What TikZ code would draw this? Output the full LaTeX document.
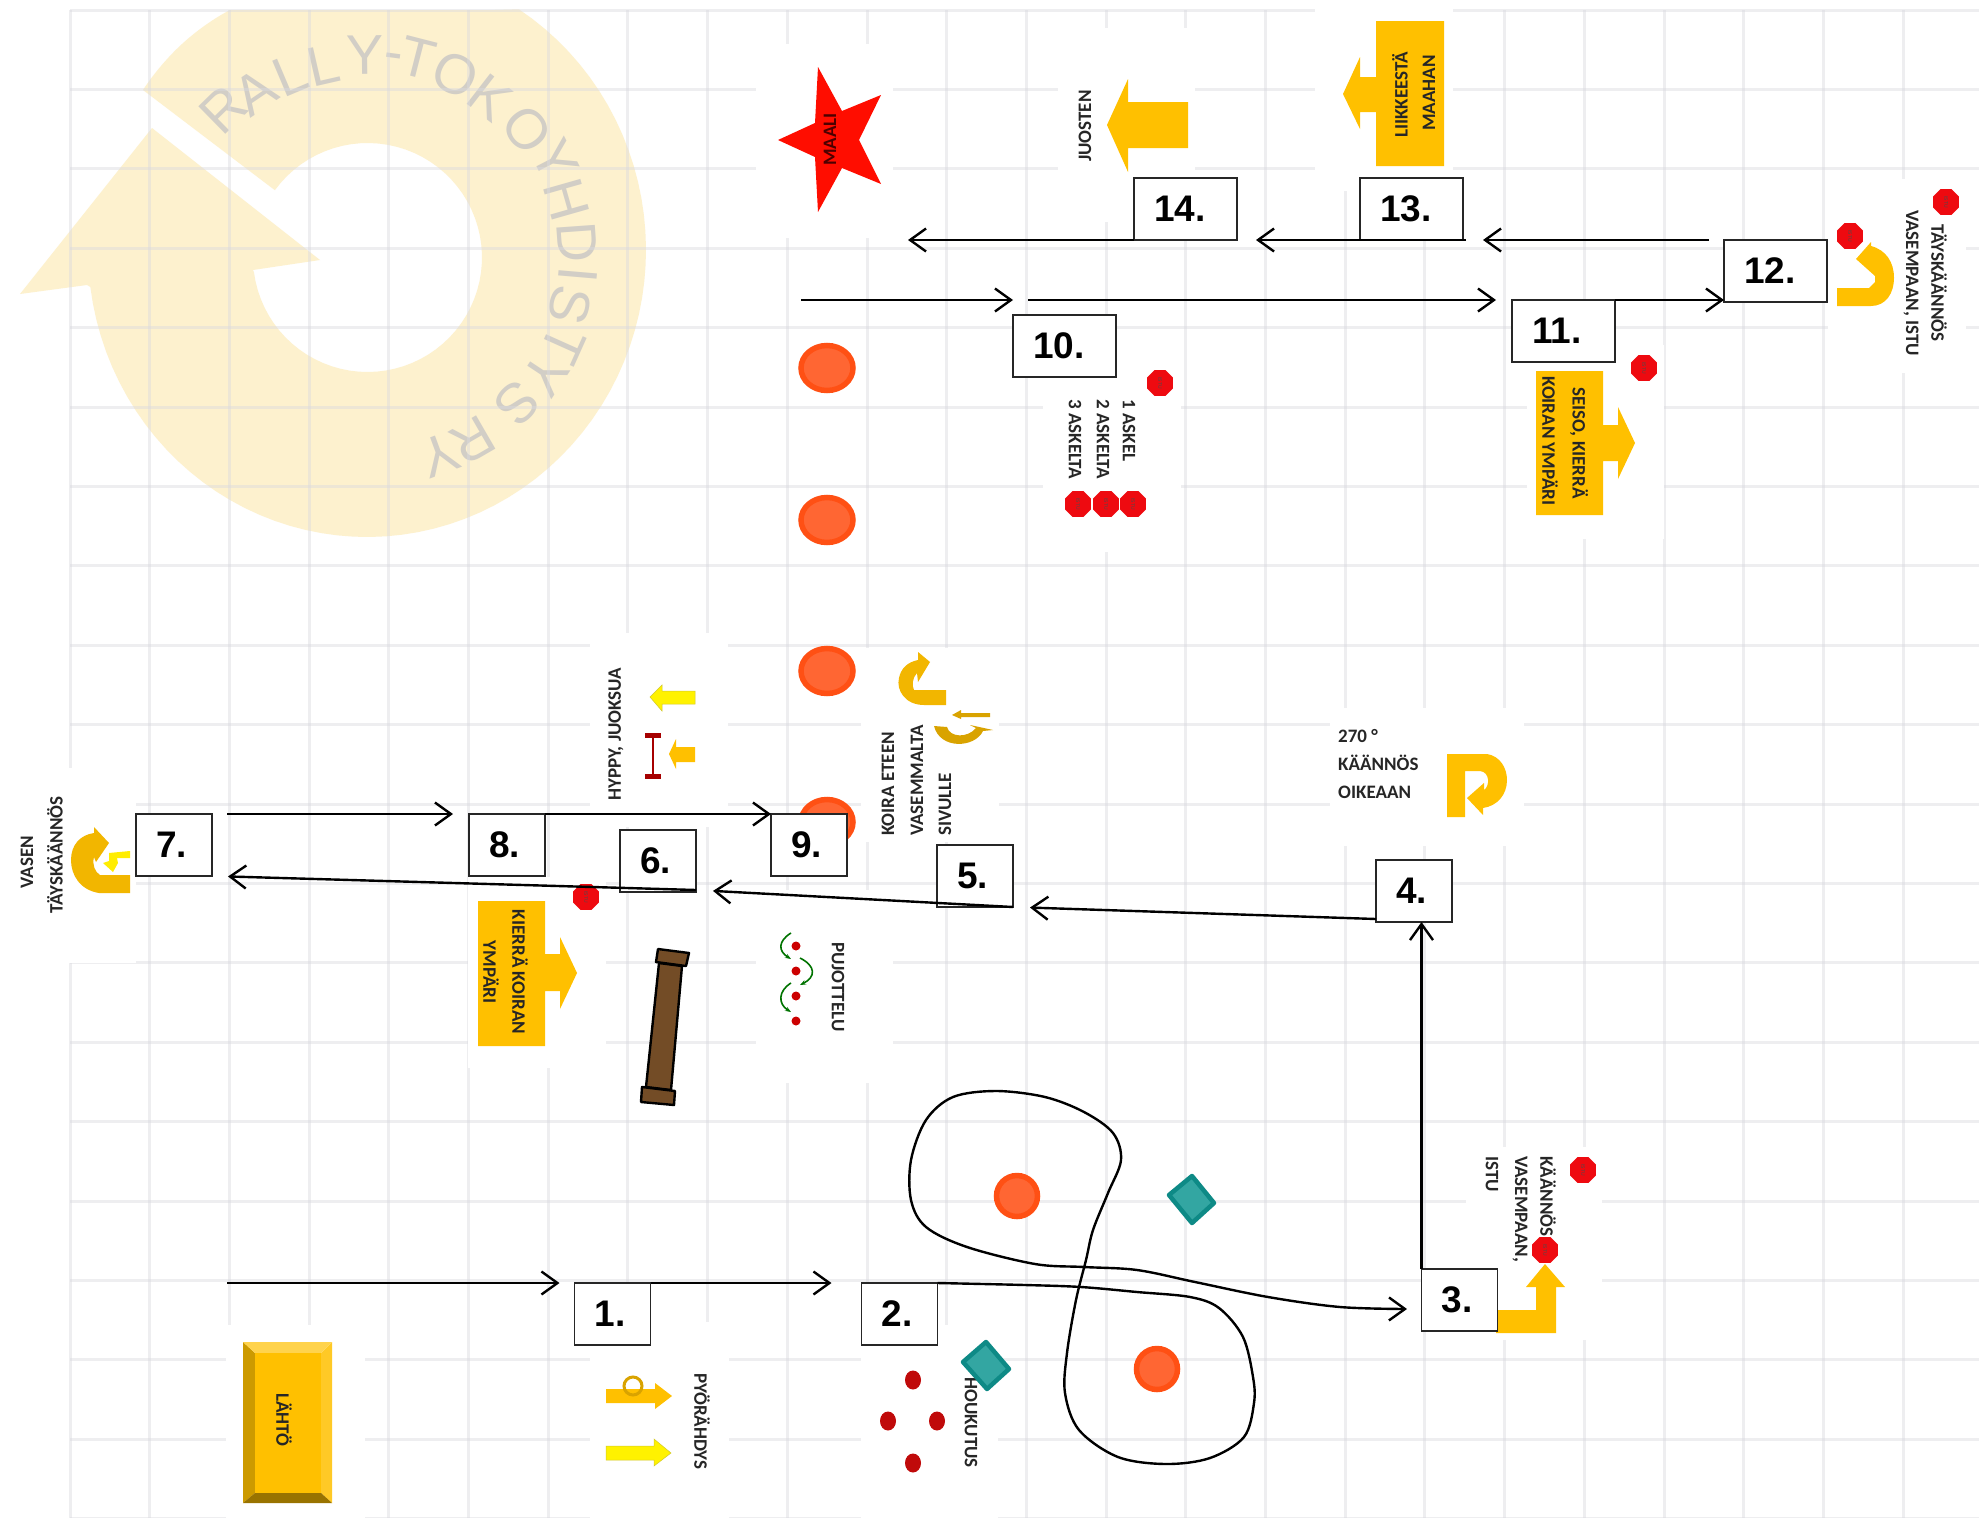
\documentclass[tikz,border=0pt]{standalone}
\usepackage{fontspec}
\setmainfont{Liberation Sans}
\newfontfamily\signfont{Carlito}
\usetikzlibrary{arrows.meta,shapes.geometric}

\definecolor{gold}{HTML}{FFC000}
\definecolor{logotint}{HTML}{FDF1CE}
\definecolor{logotext}{HTML}{D2CEC6}
\definecolor{gridgray}{HTML}{DADADF}
\definecolor{conefill}{HTML}{FF6633}
\definecolor{coneline}{HTML}{FF5014}
\definecolor{tealfill}{HTML}{33A6A2}
\definecolor{tealline}{HTML}{0E8A86}
\definecolor{stopred}{HTML}{EE0A10}
\definecolor{lurered}{HTML}{C00A0A}

\newcommand\numfont{\bfseries\fontsize{37}{37}\selectfont}
\newcommand\labelfont{\signfont\bfseries\fontsize{19}{19}\selectfont}

\tikzset{
  gridline/.style={draw=gridgray,line width=3pt,opacity=.45},
  patch/.style={fill=white},
  stepnum/.style={anchor=north west,draw=black!85,fill=white,line width=1.8pt,
    minimum height=62,text width=36,inner xsep=20,inner ysep=0,outer sep=0,
    align=left,font=\numfont},
  stepwide/.style={stepnum,text width=63},
  route/.style={->,>={Straight Barb[length=16pt,width=23pt]},line width=2.4pt},
  signdown/.style={rotate=-90,anchor=west,inner sep=0,text=black!85,font=\labelfont},
  signup/.style={rotate=90,anchor=west,inner sep=0,text=black!85,font=\labelfont},
  signmid/.style={rotate=-90,inner sep=0,text=black!85,font=\labelfont},
  signflat/.style={anchor=west,inner sep=0,text=black!85,font=\labelfont},
  stopsign/.style={shape=regular polygon,regular polygon sides=8,fill=stopred,
    minimum size=28,inner sep=0,rotate=-90,text=black!70,
    font=\fontsize{5}{5}\selectfont},
  cone/.style={shape=ellipse,draw=coneline,fill=conefill,line width=5.5pt,inner sep=0},
  cone big/.style={cone,minimum width=52,minimum height=45},
  cone low/.style={cone,minimum width=41,minimum height=41},
  lure/.style={shape=ellipse,fill=lurered,inner sep=0,minimum width=16,minimum height=19},
  teal/.style={fill=tealfill,draw=tealline,line width=4.5pt,line join=round},
  goldshape/.style={fill=gold},
  logoletter/.style={inner sep=0,text=logotext,font=\fontsize{56}{56}\selectfont}
}

\begin{document}
\begin{tikzpicture}[x=1pt,y=-1pt]
  \useasboundingbox (0,0) rectangle (1979,1518);
  \fill[white] (0,0) rectangle (1979,1518);

  % logo
  \fill[logotint] (143,90) -- plot[smooth,tension=1] coordinates {(143,90) (182,44) (230,10)}
    -- (495,10) -- plot[domain=57:-172.6,samples=70] ({367+279*cos(\x)},{250-287*sin(\x)})
    -- (87,285) -- (20,294) -- (152,128) -- (320,260) -- (253,270)
    -- plot[domain=187.5:504,samples=70] ({367.5+114.5*cos(\x)},{257.5-114.5*sin(\x)})
    -- cycle;
  \foreach \ch/\x/\y [count=\i] in {R/223/110,A/255/92,L/290/75,L/323/65,Y/365/55,-/393/62,
      T/418/58,O/455/75,K/490/98,O/527/130,Y/555/160,H/567/200,D/577/242,I/578/275,
      S/570/305,T/563/345,Y/545/375,S/517/403,R/473/440,Y/440/455} {
    \pgfmathsetmacro\ang{atan2(257-\y,\x-367)-90}
    \node[logoletter,rotate=\ang] (logo\i) at (\x,\y) {\ch};
  }

  % grid
  \foreach \k in {0,...,24}
    \draw[gridline] ({70+79.7*\k},10) -- ({70+79.7*\k},1518);
  \foreach \k in {0,...,19}
    \draw[gridline] (70,{10+79.4*\k}) -- (1979,{10+79.4*\k});

  % white backs of the signs
  \foreach \xa/\ya/\xb/\yb in {756/44/893/238,1058/28/1195/222,1315/4/1453/191,
      1828/179/1966/373,1527/345/1664/539,1043/358/1181/552,226/1325/365/1518,
      590/1322/729/1518,861/1325/998/1518,1466/1147/1602/1340,1330/708/1524/846,
      861/648/999/842,590/633/728/827,468/877/606/1068,756/890/893/1083,5/768/136/963}
    \fill[patch] (\xa,\ya) rectangle (\xb,\yb);

  % cones and pylons
  \node[cone big] (c1) at (827,368) {};
  \node[cone big] (c2) at (827,520) {};
  \node[cone big] (c3) at (827,671) {};
  \node[cone big] (c4) at (827,822) {};
  \node[cone low] (c5) at (1017,1196) {};
  \node[cone low] (c6) at (1157,1369) {};
  \draw[teal] (1192,1176) -- (1214,1203) -- (1192,1223) -- (1169,1195) -- cycle;

  % start
  \fill[gold!80!black] (243,1342) -- (255,1353) -- (255,1493) -- (243,1503) -- cycle;
  \fill[gold!85!white] (332,1342) -- (321,1353) -- (321,1493) -- (332,1503) -- cycle;
  \fill[gold!70!white] (243,1342) -- (332,1342) -- (321,1353) -- (255,1353) -- cycle;
  \fill[gold!60!black] (243,1503) -- (332,1503) -- (321,1493) -- (255,1493) -- cycle;
  \fill[gold] (255,1353) rectangle (321,1493);
  \node[signdown] (lahto) at (284,1393) {LÄHTÖ};

  % 1
  \fill[goldshape] (606,1389) -- (655,1389) -- (655,1383) -- (672,1396) -- (655,1409)
    -- (655,1403) -- (606,1403) -- cycle;
  \draw[gold!85!black,line width=3pt] (633,1386) circle (9);
  \fill[yellow,draw=yellow!80!black,line width=.5pt] (606,1446) -- (654,1446) -- (654,1439)
    -- (671,1453) -- (654,1466) -- (654,1460) -- (606,1460) -- cycle;
  \node[signdown] (pyora) at (702,1373) {PYÖRÄHDYS};

  % 2
  \node[lure] (lure1) at (913,1380) {};
  \node[lure] (lure2) at (888,1421) {};
  \node[lure] (lure3) at (937,1421) {};
  \node[lure] (lure4) at (913,1463) {};
  \node[signdown] (houkutus) at (971,1377) {HOUKUTUS};
  \draw[teal] (986,1342) -- (1009,1369) -- (987,1389) -- (963,1362) -- cycle;

  % 3
  \fill[goldshape] (1496,1310) -- (1536,1310) -- (1536,1287) -- (1526,1287) -- (1545,1264)
    -- (1565,1287) -- (1556,1287) -- (1556,1333) -- (1496,1333) -- cycle;
  \node[signdown] (kaan1) at (1548,1156) {KÄÄNNÖS};
  \node[signdown] (kaan2) at (1520,1156) {VASEMPAAN,};
  \node[signdown] (kaan3) at (1492,1156) {ISTU};
  \node[stopsign] (stop1) at (1583,1170) {ISTU};
  \node[stopsign] (stop2) at (1545,1250) {ISTU};

  % 4
  \fill[goldshape] (1447,754) -- (1487,754) .. controls (1500,756) and (1507,768) .. (1507,780)
    .. controls (1507,795) and (1497,806) .. (1483,808) -- (1483,815) -- (1467,798) -- (1484,783)
    -- (1484,790) .. controls (1490,786) and (1490,772) .. (1480,771)
    -- (1465,771) -- (1465,817) -- (1447,817) -- cycle;
  \node[signflat] (deg1) at (1338,736) {270 °};
  \node[signflat] (deg2) at (1338,763) {KÄÄNNÖS};
  \node[signflat] (deg3) at (1338,792) {OIKEAAN};

  % 5
  \fill[gold!95!black] (946,690) -- (946,705) -- (924,705)
    .. controls (905,705) and (896,690) .. (899,678) .. controls (901,668) and (908,662) .. (918,660)
    -- (918,652) -- (930,662) -- (918,682) -- (917,673)
    .. controls (912,678) and (912,686) .. (914,690) -- cycle;
  \fill[gold!85!black] (990,713) -- (961,713) -- (961,710) -- (952,715) -- (961,719)
    -- (961,717) -- (990,717) -- cycle;
  \fill[gold!85!black] (934,726) -- (947,727) .. controls (950,738) and (968,738) .. (976,728)
    -- (970,725) -- (993,730) -- (983,731) .. controls (975,748) and (940,750) .. (934,726) -- cycle;
  \node[signup] (eteen1) at (888,836) {KOIRA ETEEN};
  \node[signup] (eteen2) at (917,836) {VASEMMALTA};
  \node[signup] (eteen3) at (945,836) {SIVULLE};

  % 6
  \fill[goldshape] (478,901) -- (545,901) -- (545,954) -- (560,954) -- (560,937) -- (577,973)
    -- (560,1009) -- (560,991) -- (545,991) -- (545,1046) -- (478,1046) -- cycle;
  \node[signmid] (kierra1) at (520,972) {KIERRÄ KOIRAN};
  \node[signmid] (kierra2) at (491,972) {YMPÄRI};
  \node[stopsign] (stop3) at (586,897) {ISTU};
  \filldraw[fill=brown!60!black,draw=black,line width=2.4pt,line join=round]
    (659,963) -- (682,966) -- (671,1090) -- (646,1087) -- cycle;
  \filldraw[fill=brown!60!black,draw=black,line width=2.4pt,line join=round]
    (658,949) -- (689,953) -- (686,966) -- (656,962) -- cycle;
  \filldraw[fill=brown!60!black,draw=black,line width=2.4pt,line join=round]
    (642,1087) -- (675,1091) -- (674,1105) -- (641,1102) -- cycle;

  % slalom
  \foreach \y in {946,971,996,1021}
    \fill[red!80!black] (796,\y) circle (4.5);
  \foreach \xs/\ya/\yb/\xc in {791/933/959/778,800/958/985/816,791/983/1012/778}
    \draw[-{Stealth[length=6pt]},green!45!black,line width=1.6pt]
      (\xs,\ya) .. controls (\xc,{\ya+8}) and (\xc,{\yb-8}) .. (\xs,\yb);
  \node[signdown] (pujo) at (838,942) {PUJOTTELU};

  % 7
  \fill[gold!95!black] (130,875) -- (130,893) -- (99,893) .. controls (80,890) and (71,875) .. (71,860)
    .. controls (71,845) and (80,835) .. (94,833) -- (94,827) -- (109,843) -- (96,862)
    -- (94,857) .. controls (92,865) and (95,872) .. (100,875) -- cycle;
  \fill[yellow!90!gold] (130,851) -- (130,858) -- (117,858) -- (118,863) -- (113,872) -- (103,863)
    -- (109,861) -- (109,853) -- cycle;
  \node[signup,anchor=center] (taysi1) at (27,862) {VASEN};
  \node[signup,anchor=center] (taysi2) at (55,855) {TÄYSKÄÄNNÖS};

  % 8
  \fill[yellow,draw=yellow!80!black,line width=.5pt] (695,691) -- (662,691) -- (662,685) -- (650,697)
    -- (662,711) -- (662,704) -- (695,704) -- cycle;
  \fill[goldshape] (695,747) -- (676,747) -- (676,739) -- (669,754) -- (676,769) -- (676,762)
    -- (695,762) -- cycle;
  \draw[red!65!black,line width=2.6pt] (653,735) -- (653,777);
  \draw[red!65!black,line width=5pt] (645,735) -- (661,735);
  \draw[red!65!black,line width=5pt] (645,776) -- (661,776);
  \node[signup] (hyppy) at (616,801) {HYPPY, JUOKSUA};

  % 10
  \node[signdown] (askel1) at (1129,399) {1 ASKEL};
  \node[signdown] (askel2) at (1103,399) {2 ASKELTA};
  \node[signdown] (askel3) at (1075,399) {3 ASKELTA};
  \node[stopsign] (stop4) at (1160,383) {ISTU};
  \node[stopsign] (stop5) at (1133,504) {ISTU};
  \node[stopsign] (stop6) at (1106,504) {ISTU};
  \node[stopsign] (stop7) at (1078,504) {ISTU};

  % 11
  \fill[goldshape] (1536,371) -- (1603,371) -- (1603,425) -- (1618,425) -- (1618,407) -- (1635,443)
    -- (1618,479) -- (1618,461) -- (1603,461) -- (1603,515) -- (1536,515) -- cycle;
  \node[signmid] (seiso1) at (1579,443) {SEISO, KIERRÄ};
  \node[signmid] (seiso2) at (1550,441) {KOIRAN YMPÄRI};
  \node[stopsign] (stop8) at (1644,368) {ISTU};

  % 12
  \fill[goldshape] (1837,288) -- (1837,306) -- (1871,306) .. controls (1886,306) and (1894,293) .. (1894,278)
    .. controls (1894,262) and (1886,250) .. (1871,246) -- (1871,242) -- (1856,259) -- (1875,276)
    -- (1875,282) -- (1869,288) -- cycle;
  \node[signmid] (uturn1) at (1939,283) {TÄYSKÄÄNNÖS};
  \node[signmid] (uturn2) at (1911,283) {VASEMPAAN, ISTU};
  \node[stopsign] (stop9) at (1850,236) {ISTU};
  \node[stopsign] (stop10) at (1946,202) {ISTU};

  % 13
  \fill[goldshape] (1376,21) -- (1444,21) -- (1444,166) -- (1376,166) -- (1376,112) -- (1360,112)
    -- (1360,129) -- (1343,94) -- (1360,57) -- (1360,77) -- (1376,77) -- cycle;
  \node[signup,anchor=center] (liike1) at (1400,95) {LIIKKEESTÄ};
  \node[signup,anchor=center] (liike2) at (1429,93) {MAAHAN};

  % 14
  \fill[goldshape] (1188,102) -- (1128,102) -- (1128,79) -- (1107,125) -- (1128,172) -- (1128,148)
    -- (1188,148) -- cycle;
  \node[signup] (juosten) at (1085,162) {JUOSTEN};

  % finish
  \fill[red!90!orange] (818,67) -- (842,111) -- (881,95) -- (859,140) -- (881,184) -- (842,168)
    -- (818,212) -- (815,157) -- (778,140) -- (815,123) -- cycle;
  \node[signup,text=black!70!red] (maali) at (830,166) {MAALI};

  % free ends of the route
  \coordinate (start) at (227,1283);
  \coordinate (s10) at (801,300);
  \coordinate (s11) at (1028,300);
  \coordinate (finish) at (908,240);
  \coordinate (in3) at (1407,1309);

  \node[stepnum] (n1) at (574.5,1283) {1.};
  \node[stepnum] (n2) at (861.5,1283) {2.};
  \node[stepnum] (n3) at (1421.5,1269) {3.};
  \node[stepnum] (n4) at (1376,860) {4.};
  \node[stepnum] (n5) at (937,845) {5.};
  \node[stepnum] (n6) at (620,830) {6.};
  \node[stepnum] (n7) at (136,814) {7.};
  \node[stepnum] (n8) at (469,814) {8.};
  \node[stepnum] (n9) at (771,814) {9.};
  \node[stepwide] (n10) at (1013,315) {10.};
  \node[stepwide] (n11) at (1512,300) {11.};
  \node[stepwide] (n12) at (1724,240) {12.};
  \node[stepwide] (n13) at (1360,178) {13.};
  \node[stepwide] (n14) at (1134,178) {14.};

  \path (start) edge [route,shorten >=15pt] (n1.north west)
        (n1.north east) edge [route,shorten >=30pt] (n2.north west)
        (n3.north west) edge [route] (n3.north west |- n4.south)
        ([yshift=3pt]n4.south west) edge [route,shorten >=17pt] (n5.south east)
        (n5.south east) edge [route,shorten >=17pt] ([yshift=2pt]n6.south east)
        ([yshift=2pt]n6.south east) edge [route,shorten >=16pt] (n7.south east)
        (n7.north east) edge [route,shorten <=15pt,shorten >=16pt] (n8.north west)
        (n8.north east) edge [route] (n9.north west)
        (s10) edge [route] (s10 -| n10.north west)
        (s11) edge [route,shorten >=16pt] (n11.north west)
        (n11.north east) edge [route] (n11.north east -| n12.west)
        (n12.north west) edge [route,shorten <=15pt,shorten >=20pt] (n13.south east)
        (n13.south east) edge [route,shorten <=-3pt,shorten >=19pt] (n14.south east)
        (n14.south west) edge [route] (finish);

  \draw[route] plot[smooth,tension=.55] coordinates {(n2.north east) (1025,1285) (1081,1287)
      (1137,1292) (1190,1297) (1219,1308) (1243,1337) (1253,1377) (1254,1403) (1244,1437)
      (1210,1458) (1166,1464) (1118,1457) (1079,1430) (1065,1393) (1067,1353) (1076,1300)
      (1086,1260) (1093,1230) (1108,1193) (1121,1160) (1113,1133) (1084,1112) (1045,1097)
      (996,1091) (953,1097) (926,1120) (911,1160) (911,1200) (926,1227) (967,1247) (1035,1264)
      (1084,1267) (1137,1270) (1195,1282) (1268,1297) (1340,1307) (in3)};
\end{tikzpicture}
\end{document}
